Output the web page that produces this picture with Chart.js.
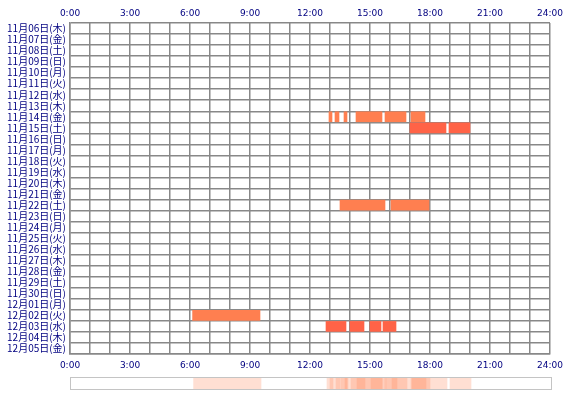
<!DOCTYPE html>
<html>
<head>
<meta charset="utf-8">
<script src="https://cdn.jsdelivr.net/npm/chart.js@4.4.1/dist/chart.umd.min.js"></script>
<style>
  html, body { margin: 0; padding: 0; background: #fff; }
  #wrap { position: relative; width: 570px; height: 400px; }
  #main { position: absolute; left: 0; top: 0; }
  #strip { position: absolute; left: 70px; top: 377px; width: 480px; height: 11px; border: 1px solid #c4c4c4; }
  #stripChart { display: block; }
</style>
</head>
<body>
<div id="wrap">
  <canvas id="main" width="570" height="400"></canvas>
  <div id="strip"><canvas id="stripChart" width="480" height="11"></canvas></div>
</div>
<script>
// 日付ラベル
var days = [
  '11月06日(木)', '11月07日(金)', '11月08日(土)', '11月09日(日)', '11月10日(月)',
  '11月11日(火)', '11月12日(水)', '11月13日(木)', '11月14日(金)', '11月15日(土)',
  '11月16日(日)', '11月17日(月)', '11月18日(火)', '11月19日(水)', '11月20日(木)',
  '11月21日(金)', '11月22日(土)', '11月23日(日)', '11月24日(月)', '11月25日(火)',
  '11月26日(水)', '11月27日(木)', '11月28日(金)', '11月29日(土)', '11月30日(日)',
  '12月01日(月)', '12月02日(火)', '12月03日(水)', '12月04日(木)', '12月05日(金)'
];

// 各セッション（日付・開始時刻・終了時刻）
var sessionDay   = ['11月14日(金)', '11月14日(金)', '11月14日(金)', '11月14日(金)', '11月14日(金)', '11月14日(金)',
                    '11月15日(土)', '11月15日(土)',
                    '11月22日(土)', '11月22日(土)',
                    '12月02日(火)',
                    '12月03日(水)', '12月03日(水)', '12月03日(水)', '12月03日(水)'];
var sessionStart = [12.95, 13.25, 13.7, 14.3, 15.75, 17.05,
                    17.0, 18.95,
                    13.5, 16.05,
                    6.13,
                    12.8, 14.0, 15.0, 15.65];
var sessionEnd   = [13.1, 13.45, 13.85, 15.6, 16.8, 17.75,
                    18.8, 20.0,
                    15.75, 17.95,
                    9.5,
                    13.8, 14.7, 15.55, 16.3];

// 時刻の目盛り
var hourTicks = [0, 3, 6, 9, 12, 15, 18, 21, 24];

// 日ごとの色
var redDays = ['11月15日(土)', '12月03日(水)'];

var navy = '#000080';
var gridColor = '#888888';

var mainData = [];
var mainColors = [];
var stripData = [];
for (var i = 0; i < sessionDay.length; i++) {
  mainData.push({ y: sessionDay[i], x: [sessionStart[i], sessionEnd[i]] });
  mainColors.push(redDays.indexOf(sessionDay[i]) >= 0 ? '#ff6347' : '#ff7f50');
  stripData.push({ y: 'all', x: [sessionStart[i], sessionEnd[i]] });
}

function hourLabel(v) {
  return hourTicks.indexOf(v) >= 0 ? v + ':00' : '';
}

var tickFont = { family: 'DejaVu Sans', size: 9 };

new Chart(document.getElementById('main').getContext('2d'), {
  type: 'bar',
  data: {
    labels: days,
    datasets: [{
      data: mainData,
      backgroundColor: mainColors,
      borderWidth: 0,
      barThickness: 10
    }]
  },
  options: {
    indexAxis: 'y',
    responsive: false,
    animation: false,
    devicePixelRatio: 1,
    layout: { padding: { left: 0, right: 20, top: 0, bottom: 22 } },
    plugins: { legend: { display: false }, tooltip: { enabled: false } },
    scales: {
      x: {
        type: 'linear', min: 0, max: 24, position: 'bottom',
        grid: { color: gridColor, lineWidth: 1.5, drawTicks: false },
        border: { color: gridColor, width: 1.5 },
        ticks: { stepSize: 1, autoSkip: false, maxRotation: 0, color: navy, font: tickFont, padding: 6, callback: hourLabel },
        afterFit: function(s) { s.height = 24; }
      },
      x2: {
        type: 'linear', min: 0, max: 24, position: 'top',
        grid: { display: false, drawTicks: false },
        border: { display: false },
        ticks: { stepSize: 1, autoSkip: false, maxRotation: 0, color: navy, font: tickFont, padding: 4, callback: hourLabel },
        afterFit: function(s) { s.height = 23; }
      },
      y: {
        grid: { color: gridColor, lineWidth: 1.5, drawTicks: false },
        border: { color: gridColor, width: 1.5 },
        ticks: { color: navy, font: { family: 'Noto Sans CJK JP', size: 10 }, padding: 4, autoSkip: false },
        afterFit: function(s) { s.width = 70; }
      }
    }
  }
});

// 下部の集計帯
new Chart(document.getElementById('stripChart').getContext('2d'), {
  type: 'bar',
  data: {
    labels: ['all'],
    datasets: [{
      data: stripData,
      backgroundColor: 'rgba(255,127,80,0.25)',
      borderWidth: 0,
      barPercentage: 1,
      categoryPercentage: 1
    }]
  },
  options: {
    indexAxis: 'y',
    responsive: false,
    animation: false,
    devicePixelRatio: 1,
    layout: { padding: 0 },
    plugins: { legend: { display: false }, tooltip: { enabled: false } },
    scales: {
      x: { type: 'linear', min: 0, max: 24, display: false },
      y: { display: false }
    }
  }
});
</script>
</body>
</html>
